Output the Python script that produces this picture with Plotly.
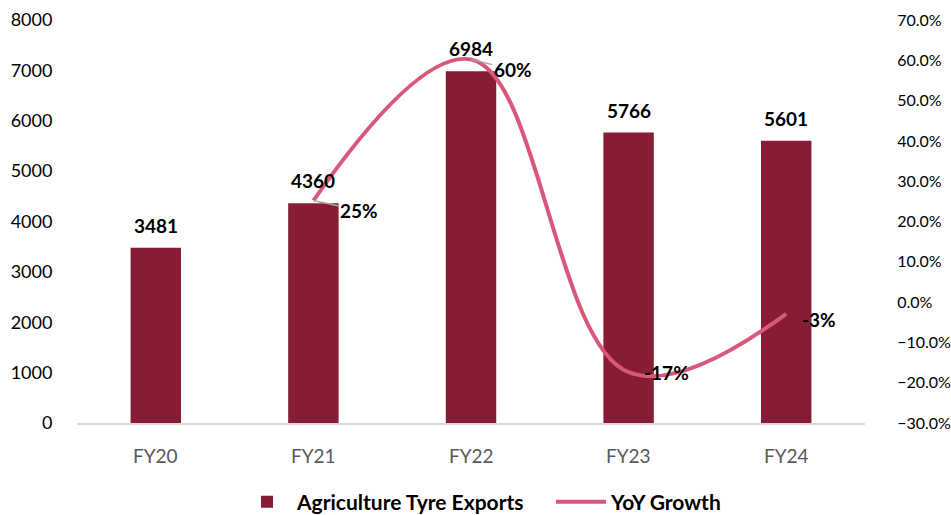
import plotly.graph_objects as go

categories = ["FY20", "FY21", "FY22", "FY23", "FY24"]
exports = [3481, 4360, 6984, 5766, 5601]
growth = [None, 0.252, 0.602, -0.174, -0.029]
growth_labels = ["", "25%", "60%", "-17%", "-3%"]
left_ticks = [0, 1000, 2000, 3000, 4000, 5000, 6000, 7000, 8000]
right_ticks = [-0.3, -0.2, -0.1, 0.0, 0.1, 0.2, 0.3, 0.4, 0.5, 0.6, 0.7]

BAR = "#861D35"
LINE = "#D9587A"
FONT = "Lato"
LABEL_FONT = dict(family=FONT, size=19, color="#000000", weight="bold")

fig = go.Figure()
fig.add_trace(go.Bar(
    x=categories, y=exports, name="Agriculture Tyre Exports",
    marker=dict(color=BAR, line=dict(width=0)),
    width=0.32,
))
fig.add_trace(go.Scatter(
    x=categories[1:], y=growth[1:], name="YoY Growth", yaxis="y2",
    mode="lines", line=dict(color=LINE, width=4, shape="spline", smoothing=1.1),
))

# category labels under the axis
for c in categories:
    fig.add_annotation(x=c, y=0, xref="x", yref="paper", text=c, showarrow=False,
                       yanchor="middle", yshift=-32,
                       font=dict(family=FONT, size=19, color="#595959"))

# bar data labels
for c, v in zip(categories, exports):
    fig.add_annotation(x=c, y=v, xref="x", yref="y", text=str(v), showarrow=False,
                       yanchor="bottom", yshift=9, font=LABEL_FONT)

# line data labels
offsets = {1: (46, 10, True), 2: (42, 10, True), 3: (38, 0, False), 4: (33, 6, False)}
for i, (dx, dy, arrow) in offsets.items():
    if arrow:
        fig.add_annotation(x=categories[i], y=growth[i], xref="x", yref="y2",
                           text=growth_labels[i], showarrow=True, ax=dx, ay=dy,
                           arrowhead=0, arrowwidth=1.5, arrowcolor="#A6A6A6", standoff=0,
                           font=LABEL_FONT)
    else:
        fig.add_annotation(x=categories[i], y=growth[i], xref="x", yref="y2",
                           text=growth_labels[i], showarrow=False, xshift=dx, yshift=-dy,
                           font=LABEL_FONT)

fig.update_layout(
    width=951, height=515,
    margin=dict(l=77, r=86, t=20, b=92),
    plot_bgcolor="white", paper_bgcolor="white",
    font=dict(family=FONT, size=18, color="#000000"),
    xaxis=dict(showgrid=False, showline=True, linecolor="#D9D9D9", linewidth=1.5,
               showticklabels=False, ticks="", automargin=False),
    yaxis=dict(range=[0, 8000], tickvals=left_ticks, showgrid=False, zeroline=False,
               tickfont=dict(family=FONT, size=18, color="#000000"),
               ticks="outside", ticklen=20, tickcolor="rgba(0,0,0,0)", automargin=False),
    yaxis2=dict(range=[-0.3, 0.7], tickvals=right_ticks, tickformat=".1%",
                overlaying="y", side="right", showgrid=False, zeroline=False,
                tickfont=dict(family=FONT, size=16, color="#000000"),
                ticks="outside", ticklen=28, tickcolor="rgba(0,0,0,0)", automargin=False),
    legend=dict(orientation="h", x=0.6015, xanchor="center", xref="paper",
                y=0.025, yanchor="middle", yref="container",
                font=dict(family=FONT, size=21, color="#000000", weight="bold"),
                traceorder="normal", itemwidth=50, entrywidth=249),
    showlegend=True,
)

fig.write_html("out.html")
